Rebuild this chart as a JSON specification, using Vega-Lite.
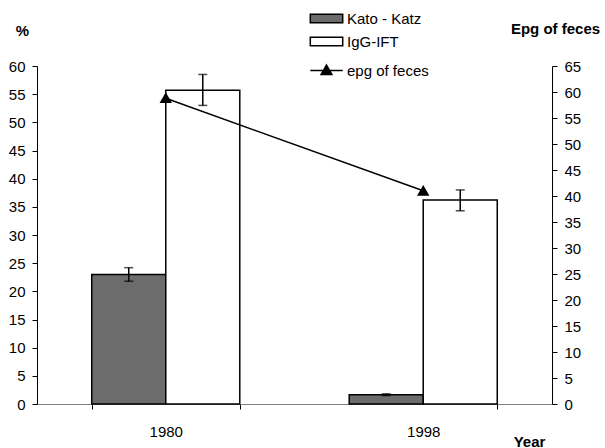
{
  "$schema": "https://vega.github.io/schema/vega-lite/v6.json",
  "autosize": {"type": "none"},
  "width": 515,
  "height": 338,
  "padding": {"left": 37, "top": 66, "right": 53, "bottom": 44},
  "background": "white",
  "config": {
    "view": {"stroke": null},
    "font": "Liberation Sans",
    "axis": {"labelFont": "Liberation Sans", "titleFont": "Liberation Sans", "labelFontSize": 15, "titleFontSize": 15, "labelColor": "black", "titleColor": "black", "domainColor": "black", "tickColor": "black", "grid": false, "labelOverlap": false},
    "legend": {"labelFont": "Liberation Sans", "labelFontSize": 15, "labelColor": "black", "padding": 0}
  },
  "datasets": {
    "bars": [
      {"year": "1980", "method": "Kato - Katz", "value": 23.0, "lo": 21.8, "hi": 24.2},
      {"year": "1980", "method": "IgG-IFT", "value": 55.7, "lo": 53.0, "hi": 58.5},
      {"year": "1998", "method": "Kato - Katz", "value": 1.65, "lo": 1.5, "hi": 1.8},
      {"year": "1998", "method": "IgG-IFT", "value": 36.2, "lo": 34.3, "hi": 38.0}
    ],
    "epg": [
      {"year": "1980", "epg": 58.8},
      {"year": "1998", "epg": 41.0}
    ]
  },
  "encoding": {
    "x": {
      "field": "year", "type": "nominal",
      "scale": {"paddingInner": 0.425, "paddingOuter": 0.2126},
      "axis": {"title": "Year", "titleFontWeight": "bold", "titleX": 492, "titleY": 42, "titleBaseline": "alphabetic", "titleAlign": "center", "labelAngle": 0, "tickBand": "extent", "tickSize": 5, "labelBaseline": "alphabetic", "labelPadding": 27, "domainColor": "#808080", "tickColor": "black"}
    }
  },
  "layer": [
    {
      "data": {"name": "bars"},
      "layer": [
        {
          "mark": {"type": "bar", "stroke": "black", "strokeWidth": 1.5},
          "encoding": {
            "xOffset": {"field": "method", "type": "nominal", "scale": {"domain": ["Kato - Katz", "IgG-IFT"], "paddingInner": 0, "paddingOuter": 0}},
            "y": {"field": "value", "type": "quantitative", "title": "%",
              "scale": {"domain": [0, 60], "nice": false},
              "axis": {"orient": "left", "values": [0,5,10,15,20,25,30,35,40,45,50,55,60], "labelOverlap": false, "tickSize": 5, "labelPadding": 7, "titleAngle": 0, "titleFontWeight": "bold", "titleX": -15, "titleY": -31, "titleAlign": "center", "titleBaseline": "alphabetic"}},
            "fill": {"field": "method", "type": "nominal",
              "scale": {"domain": ["Kato - Katz", "IgG-IFT"], "range": ["#6c6c6c", "white"]},
              "legend": {"title": null, "orient": "none", "legendX": 275, "legendY": -62, "symbolType": "M-1.2,-0.32H1.2V0.32H-1.2Z", "symbolSize": 729, "symbolStrokeColor": "black", "symbolStrokeWidth": 1.5, "labelOffset": 6, "rowPadding": 0}}
          }
        },
        {
          "mark": {"type": "rule", "color": "black", "strokeWidth": 1.5},
          "encoding": {
            "xOffset": {"field": "method", "type": "nominal"},
            "y": {"field": "lo", "type": "quantitative", "title": "%",
              "axis": {"orient": "left", "values": [0,5,10,15,20,25,30,35,40,45,50,55,60], "labelOverlap": false, "tickSize": 5, "labelPadding": 7, "titleAngle": 0, "titleFontWeight": "bold", "titleX": -15, "titleY": -31, "titleAlign": "center", "titleBaseline": "alphabetic"}},
            "y2": {"field": "hi"}
          }
        },
        {
          "mark": {"type": "tick", "color": "black", "thickness": 1.5, "size": 9},
          "encoding": {
            "xOffset": {"field": "method", "type": "nominal"},
            "y": {"field": "lo", "type": "quantitative", "title": "%",
              "axis": {"orient": "left", "values": [0,5,10,15,20,25,30,35,40,45,50,55,60], "labelOverlap": false, "tickSize": 5, "labelPadding": 7, "titleAngle": 0, "titleFontWeight": "bold", "titleX": -15, "titleY": -31, "titleAlign": "center", "titleBaseline": "alphabetic"}}
          }
        },
        {
          "mark": {"type": "tick", "color": "black", "thickness": 1.5, "size": 9},
          "encoding": {
            "xOffset": {"field": "method", "type": "nominal"},
            "y": {"field": "hi", "type": "quantitative", "title": "%",
              "axis": {"orient": "left", "values": [0,5,10,15,20,25,30,35,40,45,50,55,60], "labelOverlap": false, "tickSize": 5, "labelPadding": 7, "titleAngle": 0, "titleFontWeight": "bold", "titleX": -15, "titleY": -31, "titleAlign": "center", "titleBaseline": "alphabetic"}}
          }
        }
      ]
    },
    {
      "data": {"name": "epg"},
      "mark": {"type": "line", "strokeWidth": 1.5, "point": {"shape": "triangle-up", "filled": true, "size": 80, "color": "black"}},
      "encoding": {
        "y": {"field": "epg", "type": "quantitative", "title": "Epg of feces",
          "scale": {"domain": [0, 65], "nice": false},
          "axis": {"orient": "right", "values": [0,5,10,15,20,25,30,35,40,45,50,55,60,65], "labelOverlap": false, "tickSize": 5, "labelPadding": 7, "titleAngle": 0, "titleFontWeight": "bold", "titleX": 3, "titleY": -33, "titleAlign": "center", "titleBaseline": "alphabetic"}},
        "stroke": {"datum": "epg of feces", "scale": {"domain": ["epg of feces"], "range": ["black"]},
          "legend": {"title": null, "orient": "none", "legendX": 275, "legendY": -10, "symbolType": "M-1.2,0H1.2M0,-0.4L0.4,0.3L-0.4,0.3Z", "symbolSize": 729, "symbolStrokeColor": "black", "symbolFillColor": "black", "symbolStrokeWidth": 1.5, "labelOffset": 6}}
      }
    }
  ],
  "resolve": {"scale": {"y": "independent"}}
}
